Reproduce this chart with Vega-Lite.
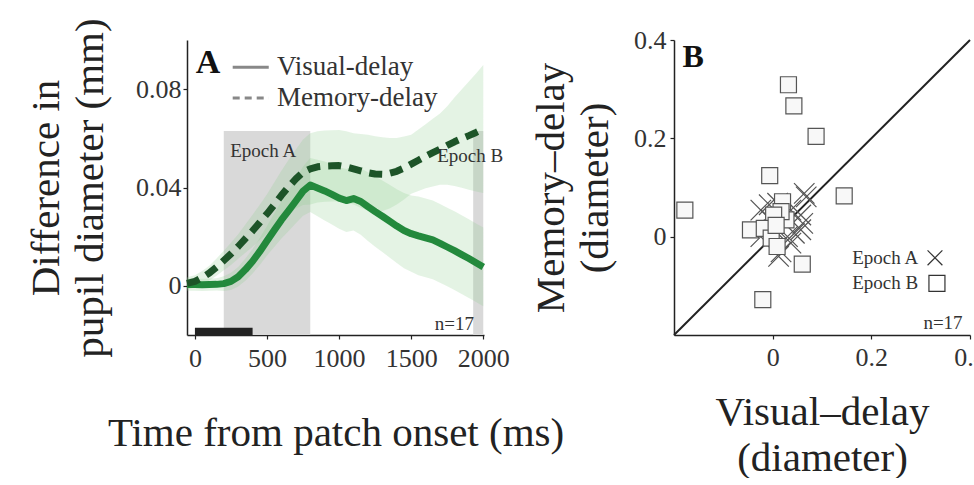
{
  "$schema": "https://vega.github.io/schema/vega-lite/v6.json",
  "background": "white",
  "padding": {"left": 25, "top": 17, "right": 0, "bottom": 0},
  "bounds": "flush",
  "spacing": 190,
  "config": {
    "font": "Liberation Serif",
    "view": {"stroke": null},
    "axis": {
      "labelFont": "Liberation Serif",
      "labelFontSize": 26,
      "labelColor": "#333333",
      "labelOverlap": false,
      "labelFlush": false,
      "titleFont": "Liberation Serif",
      "titleFontSize": 41,
      "titleFontWeight": "normal",
      "titleColor": "#222222",
      "titleLineHeight": 44,
      "domainColor": "#222222",
      "domainWidth": 1.5,
      "tickColor": "#222222",
      "tickSize": 4,
      "tickWidth": 1.2,
      "grid": false
    },
    "text": {"font": "Liberation Serif", "color": "#333333"}
  },
  "datasets": {
    "curves": [
      {"t": -55, "series": "Visual-delay", "mean": 0.0005, "lo": -0.002, "hi": 0.003},
      {"t": 0, "series": "Visual-delay", "mean": 0.0005, "lo": -0.002, "hi": 0.003},
      {"t": 50, "series": "Visual-delay", "mean": 0.0004, "lo": -0.0021, "hi": 0.0029},
      {"t": 100, "series": "Visual-delay", "mean": 0.0005, "lo": -0.002, "hi": 0.003},
      {"t": 150, "series": "Visual-delay", "mean": 0.0006, "lo": -0.0019, "hi": 0.0031},
      {"t": 200, "series": "Visual-delay", "mean": 0.0009, "lo": -0.0021, "hi": 0.0039},
      {"t": 250, "series": "Visual-delay", "mean": 0.0018, "lo": -0.0017, "hi": 0.0053},
      {"t": 300, "series": "Visual-delay", "mean": 0.0037, "lo": -0.0003, "hi": 0.0077},
      {"t": 350, "series": "Visual-delay", "mean": 0.0066, "lo": 0.0021, "hi": 0.0111},
      {"t": 400, "series": "Visual-delay", "mean": 0.01, "lo": 0.005, "hi": 0.015},
      {"t": 450, "series": "Visual-delay", "mean": 0.014, "lo": 0.0085, "hi": 0.0195},
      {"t": 500, "series": "Visual-delay", "mean": 0.0183, "lo": 0.0123, "hi": 0.0243},
      {"t": 550, "series": "Visual-delay", "mean": 0.0226, "lo": 0.0158, "hi": 0.0294},
      {"t": 600, "series": "Visual-delay", "mean": 0.0268, "lo": 0.0193, "hi": 0.0343},
      {"t": 650, "series": "Visual-delay", "mean": 0.0306, "lo": 0.0223, "hi": 0.0389},
      {"t": 700, "series": "Visual-delay", "mean": 0.0345, "lo": 0.0255, "hi": 0.0435},
      {"t": 750, "series": "Visual-delay", "mean": 0.0385, "lo": 0.0285, "hi": 0.0485},
      {"t": 800, "series": "Visual-delay", "mean": 0.041, "lo": 0.03, "hi": 0.052},
      {"t": 850, "series": "Visual-delay", "mean": 0.0398, "lo": 0.0283, "hi": 0.0513},
      {"t": 900, "series": "Visual-delay", "mean": 0.0386, "lo": 0.0266, "hi": 0.0506},
      {"t": 950, "series": "Visual-delay", "mean": 0.0372, "lo": 0.0249, "hi": 0.0495},
      {"t": 1000, "series": "Visual-delay", "mean": 0.0357, "lo": 0.0232, "hi": 0.0482},
      {"t": 1050, "series": "Visual-delay", "mean": 0.0347, "lo": 0.0219, "hi": 0.0475},
      {"t": 1100, "series": "Visual-delay", "mean": 0.0355, "lo": 0.0225, "hi": 0.0485},
      {"t": 1150, "series": "Visual-delay", "mean": 0.0343, "lo": 0.0208, "hi": 0.0478},
      {"t": 1200, "series": "Visual-delay", "mean": 0.0322, "lo": 0.0182, "hi": 0.0462},
      {"t": 1250, "series": "Visual-delay", "mean": 0.0302, "lo": 0.0159, "hi": 0.0445},
      {"t": 1300, "series": "Visual-delay", "mean": 0.0283, "lo": 0.0138, "hi": 0.0428},
      {"t": 1350, "series": "Visual-delay", "mean": 0.0263, "lo": 0.0115, "hi": 0.0411},
      {"t": 1400, "series": "Visual-delay", "mean": 0.0243, "lo": 0.0093, "hi": 0.0393},
      {"t": 1450, "series": "Visual-delay", "mean": 0.0225, "lo": 0.0072, "hi": 0.0378},
      {"t": 1500, "series": "Visual-delay", "mean": 0.0212, "lo": 0.0057, "hi": 0.0367},
      {"t": 1550, "series": "Visual-delay", "mean": 0.0203, "lo": 0.0043, "hi": 0.0363},
      {"t": 1600, "series": "Visual-delay", "mean": 0.0195, "lo": 0.0035, "hi": 0.0355},
      {"t": 1650, "series": "Visual-delay", "mean": 0.0187, "lo": 0.0027, "hi": 0.0347},
      {"t": 1700, "series": "Visual-delay", "mean": 0.0173, "lo": 0.0013, "hi": 0.0333},
      {"t": 1750, "series": "Visual-delay", "mean": 0.0158, "lo": -0.0002, "hi": 0.0318},
      {"t": 1800, "series": "Visual-delay", "mean": 0.0143, "lo": -0.0017, "hi": 0.0303},
      {"t": 1850, "series": "Visual-delay", "mean": 0.0127, "lo": -0.0033, "hi": 0.0287},
      {"t": 1900, "series": "Visual-delay", "mean": 0.0111, "lo": -0.0049, "hi": 0.0271},
      {"t": 1950, "series": "Visual-delay", "mean": 0.0094, "lo": -0.0066, "hi": 0.0254},
      {"t": 2000, "series": "Visual-delay", "mean": 0.0077, "lo": -0.0083, "hi": 0.0237},
      {"t": -55, "series": "Memory-delay", "mean": 0.001, "lo": -0.0015, "hi": 0.0035},
      {"t": 0, "series": "Memory-delay", "mean": 0.0018, "lo": -0.0007, "hi": 0.0043},
      {"t": 50, "series": "Memory-delay", "mean": 0.0033, "lo": 0.0006, "hi": 0.006},
      {"t": 100, "series": "Memory-delay", "mean": 0.0052, "lo": 0.0022, "hi": 0.0082},
      {"t": 150, "series": "Memory-delay", "mean": 0.0076, "lo": 0.0041, "hi": 0.0111},
      {"t": 200, "series": "Memory-delay", "mean": 0.0103, "lo": 0.0063, "hi": 0.0143},
      {"t": 250, "series": "Memory-delay", "mean": 0.013, "lo": 0.0085, "hi": 0.0175},
      {"t": 300, "series": "Memory-delay", "mean": 0.016, "lo": 0.011, "hi": 0.021},
      {"t": 350, "series": "Memory-delay", "mean": 0.0192, "lo": 0.0135, "hi": 0.0249},
      {"t": 400, "series": "Memory-delay", "mean": 0.0224, "lo": 0.0159, "hi": 0.0289},
      {"t": 450, "series": "Memory-delay", "mean": 0.0258, "lo": 0.0186, "hi": 0.033},
      {"t": 500, "series": "Memory-delay", "mean": 0.0293, "lo": 0.0213, "hi": 0.0373},
      {"t": 550, "series": "Memory-delay", "mean": 0.033, "lo": 0.024, "hi": 0.042},
      {"t": 600, "series": "Memory-delay", "mean": 0.0368, "lo": 0.0268, "hi": 0.0468},
      {"t": 650, "series": "Memory-delay", "mean": 0.0403, "lo": 0.0293, "hi": 0.0513},
      {"t": 700, "series": "Memory-delay", "mean": 0.0435, "lo": 0.0315, "hi": 0.0555},
      {"t": 750, "series": "Memory-delay", "mean": 0.0462, "lo": 0.0329, "hi": 0.0595},
      {"t": 800, "series": "Memory-delay", "mean": 0.0476, "lo": 0.0331, "hi": 0.0621},
      {"t": 850, "series": "Memory-delay", "mean": 0.0484, "lo": 0.0339, "hi": 0.0629},
      {"t": 900, "series": "Memory-delay", "mean": 0.0487, "lo": 0.0342, "hi": 0.0632},
      {"t": 950, "series": "Memory-delay", "mean": 0.0488, "lo": 0.0343, "hi": 0.0633},
      {"t": 1000, "series": "Memory-delay", "mean": 0.0489, "lo": 0.0344, "hi": 0.0634},
      {"t": 1050, "series": "Memory-delay", "mean": 0.0484, "lo": 0.0339, "hi": 0.0629},
      {"t": 1100, "series": "Memory-delay", "mean": 0.0476, "lo": 0.0331, "hi": 0.0621},
      {"t": 1150, "series": "Memory-delay", "mean": 0.0468, "lo": 0.0318, "hi": 0.0618},
      {"t": 1200, "series": "Memory-delay", "mean": 0.046, "lo": 0.0305, "hi": 0.0615},
      {"t": 1250, "series": "Memory-delay", "mean": 0.0455, "lo": 0.0302, "hi": 0.0608},
      {"t": 1300, "series": "Memory-delay", "mean": 0.0454, "lo": 0.0304, "hi": 0.0604},
      {"t": 1350, "series": "Memory-delay", "mean": 0.0458, "lo": 0.0315, "hi": 0.0601},
      {"t": 1400, "series": "Memory-delay", "mean": 0.0466, "lo": 0.0331, "hi": 0.0601},
      {"t": 1450, "series": "Memory-delay", "mean": 0.0479, "lo": 0.0351, "hi": 0.0607},
      {"t": 1500, "series": "Memory-delay", "mean": 0.0495, "lo": 0.0375, "hi": 0.0615},
      {"t": 1550, "series": "Memory-delay", "mean": 0.0511, "lo": 0.0386, "hi": 0.0636},
      {"t": 1600, "series": "Memory-delay", "mean": 0.0527, "lo": 0.0397, "hi": 0.0657},
      {"t": 1650, "series": "Memory-delay", "mean": 0.0542, "lo": 0.0404, "hi": 0.068},
      {"t": 1700, "series": "Memory-delay", "mean": 0.0556, "lo": 0.0411, "hi": 0.0701},
      {"t": 1750, "series": "Memory-delay", "mean": 0.0571, "lo": 0.0411, "hi": 0.0731},
      {"t": 1800, "series": "Memory-delay", "mean": 0.0586, "lo": 0.0406, "hi": 0.0766},
      {"t": 1850, "series": "Memory-delay", "mean": 0.0599, "lo": 0.0399, "hi": 0.0799},
      {"t": 1900, "series": "Memory-delay", "mean": 0.0611, "lo": 0.0391, "hi": 0.0831},
      {"t": 1950, "series": "Memory-delay", "mean": 0.0624, "lo": 0.0384, "hi": 0.0864},
      {"t": 2000, "series": "Memory-delay", "mean": 0.0638, "lo": 0.0378, "hi": 0.0898}
    ],
    "epochs": [
      {"epoch": "Epoch A", "start": 200, "end": 800},
      {"epoch": "Epoch B", "start": 1930, "end": 2000}
    ],
    "stimulus": [
      {"start": 0, "end": 400}
    ],
    "points": [
      {"epoch": "Epoch A", "visual": 0.068, "memory": 0.081},
      {"epoch": "Epoch A", "visual": 0.064, "memory": 0.088},
      {"epoch": "Epoch A", "visual": 0.061, "memory": 0.027},
      {"epoch": "Epoch A", "visual": 0.057, "memory": 0.014},
      {"epoch": "Epoch A", "visual": 0.057, "memory": 0.044},
      {"epoch": "Epoch A", "visual": 0.044, "memory": 0.007},
      {"epoch": "Epoch A", "visual": 0.037, "memory": 0.054},
      {"epoch": "Epoch A", "visual": 0.037, "memory": -0.013},
      {"epoch": "Epoch A", "visual": 0.030, "memory": 0.0},
      {"epoch": "Epoch A", "visual": 0.017, "memory": -0.031},
      {"epoch": "Epoch A", "visual": 0.012, "memory": -0.040},
      {"epoch": "Epoch A", "visual": 0.010, "memory": 0.068},
      {"epoch": "Epoch A", "visual": 0.003, "memory": 0.014},
      {"epoch": "Epoch A", "visual": -0.003, "memory": 0.034},
      {"epoch": "Epoch A", "visual": -0.007, "memory": 0.065},
      {"epoch": "Epoch A", "visual": -0.024, "memory": 0.054},
      {"epoch": "Epoch A", "visual": -0.024, "memory": 0.0},
      {"epoch": "Epoch B", "visual": 0.032, "memory": 0.309},
      {"epoch": "Epoch B", "visual": 0.043, "memory": 0.266},
      {"epoch": "Epoch B", "visual": 0.088, "memory": 0.204},
      {"epoch": "Epoch B", "visual": -0.006, "memory": 0.124},
      {"epoch": "Epoch B", "visual": -0.178, "memory": 0.054},
      {"epoch": "Epoch B", "visual": 0.145, "memory": 0.083},
      {"epoch": "Epoch B", "visual": 0.020, "memory": 0.071},
      {"epoch": "Epoch B", "visual": 0.027, "memory": 0.034},
      {"epoch": "Epoch B", "visual": 0.017, "memory": 0.051},
      {"epoch": "Epoch B", "visual": 0.002, "memory": 0.044},
      {"epoch": "Epoch B", "visual": -0.045, "memory": 0.014},
      {"epoch": "Epoch B", "visual": -0.017, "memory": 0.017},
      {"epoch": "Epoch B", "visual": -0.003, "memory": -0.003},
      {"epoch": "Epoch B", "visual": 0.009, "memory": -0.020},
      {"epoch": "Epoch B", "visual": 0.060, "memory": -0.056},
      {"epoch": "Epoch B", "visual": -0.020, "memory": -0.128},
      {"epoch": "Epoch B", "visual": 0.007, "memory": 0.023}
    ]
  },
  "hconcat": [
    {
      "width": 297,
      "height": 295,
      "layer": [
        {
          "data": {"name": "epochs"},
          "mark": {"type": "rect", "color": "#d9d9d9"},
          "encoding": {
            "x": {"field": "start", "type": "quantitative", "scale": {"domain": [-55, 2005], "nice": false, "zero": false},
              "axis": {"values": [0, 500, 1000, 1500, 2000], "format": "d", "title": "Time from patch onset (ms)", "labelPadding": 6, "titlePadding": 42}},
            "x2": {"field": "end"},
            "y": {"datum": -0.02, "type": "quantitative", "scale": {"domain": [-0.02, 0.1], "nice": false, "zero": false},
              "axis": {"values": [0, 0.04, 0.08], "format": "~g", "title": ["Difference in", "pupil diameter (mm)"], "labelPadding": 2, "titlePadding": 24}},
            "y2": {"datum": 0.063}
          }
        },
        {
          "data": {"name": "curves"},
          "mark": {"type": "area", "color": "#8fcc8f", "opacity": 0.24},
          "encoding": {
            "x": {"field": "t", "type": "quantitative"},
            "y": {"field": "lo", "type": "quantitative"},
            "y2": {"field": "hi"},
            "detail": {"field": "series"}
          }
        },
        {
          "data": {"name": "stimulus"},
          "mark": {"type": "rect", "color": "#222222"},
          "encoding": {
            "x": {"field": "start", "type": "quantitative"},
            "x2": {"field": "end"},
            "y": {"datum": -0.02, "type": "quantitative"},
            "y2": {"datum": -0.017}
          }
        },
        {
          "data": {"name": "curves"},
          "transform": [{"filter": "datum.series === 'Visual-delay'"}],
          "mark": {"type": "line", "strokeWidth": 7, "strokeCap": "butt", "strokeJoin": "round", "color": "#23893c"},
          "encoding": {
            "x": {"field": "t", "type": "quantitative"},
            "y": {"field": "mean", "type": "quantitative"}
          }
        },
        {
          "data": {"name": "curves"},
          "transform": [{"filter": "datum.series === 'Memory-delay'"}],
          "mark": {"type": "line", "strokeWidth": 7, "strokeCap": "butt", "strokeJoin": "round", "strokeDash": [13, 8], "color": "#1d5428"},
          "encoding": {
            "x": {"field": "t", "type": "quantitative"},
            "y": {"field": "mean", "type": "quantitative"}
          }
        },
        {
          "data": {"values": [{}]},
          "mark": {"type": "rule", "color": "#888888", "strokeWidth": 3},
          "encoding": {"x": {"datum": 262, "type": "quantitative"}, "x2": {"datum": 512}, "y": {"datum": 0.0889, "type": "quantitative"}}
        },
        {
          "data": {"values": [{}]},
          "mark": {"type": "rule", "color": "#888888", "strokeWidth": 3, "strokeDash": [7, 5]},
          "encoding": {"x": {"datum": 262, "type": "quantitative"}, "x2": {"datum": 512}, "y": {"datum": 0.0764, "type": "quantitative"}}
        },
        {
          "data": {"values": [{}]},
          "mark": {"type": "text", "text": "Visual-delay", "fontSize": 27, "align": "left", "baseline": "middle"},
          "encoding": {"x": {"datum": 569, "type": "quantitative"}, "y": {"datum": 0.0889, "type": "quantitative"}}
        },
        {
          "data": {"values": [{}]},
          "mark": {"type": "text", "text": "Memory-delay", "fontSize": 27, "align": "left", "baseline": "middle"},
          "encoding": {"x": {"datum": 569, "type": "quantitative"}, "y": {"datum": 0.0764, "type": "quantitative"}}
        },
        {
          "data": {"values": [{}]},
          "mark": {"type": "text", "text": "A", "fontSize": 34, "fontWeight": "bold", "color": "#111111", "align": "left", "baseline": "alphabetic"},
          "encoding": {"x": {"datum": 5, "type": "quantitative"}, "y": {"datum": 0.0867, "type": "quantitative"}}
        },
        {
          "data": {"values": [{}]},
          "mark": {"type": "text", "text": "Epoch A", "fontSize": 19, "align": "left", "baseline": "middle"},
          "encoding": {"x": {"datum": 245, "type": "quantitative"}, "y": {"datum": 0.0547, "type": "quantitative"}}
        },
        {
          "data": {"values": [{}]},
          "mark": {"type": "text", "text": "Epoch B", "fontSize": 19, "align": "left", "baseline": "middle"},
          "encoding": {"x": {"datum": 1680, "type": "quantitative"}, "y": {"datum": 0.0527, "type": "quantitative"}}
        },
        {
          "data": {"values": [{}]},
          "mark": {"type": "text", "text": "n=17", "fontSize": 19, "align": "right", "baseline": "middle"},
          "encoding": {"x": {"datum": 1935, "type": "quantitative"}, "y": {"datum": -0.0155, "type": "quantitative"}}
        }
      ]
    },
    {
      "width": 296,
      "height": 295,
      "layer": [
        {
          "data": {"values": [{}]},
          "mark": {"type": "rule", "color": "#222222", "strokeWidth": 2},
          "encoding": {
            "x": {"datum": -0.2, "type": "quantitative", "scale": {"domain": [-0.2, 0.4], "nice": false, "zero": false},
              "axis": {"values": [0, 0.2, 0.4], "format": "~g", "title": ["Visual–delay", "(diameter)"], "labelPadding": 5, "titlePadding": 22, "titleLineHeight": 46}},
            "y": {"datum": -0.2, "type": "quantitative", "scale": {"domain": [-0.2, 0.4], "nice": false, "zero": false},
              "axis": {"values": [0, 0.2, 0.4], "format": "~g", "title": ["Memory–delay", "(diameter)"], "labelPadding": 4, "titlePadding": 17}},
            "x2": {"datum": 0.4},
            "y2": {"datum": 0.4}
          }
        },
        {
          "data": {"name": "points"},
          "mark": {"type": "point", "filled": true, "fill": "#f8f8f8", "stroke": "#555555", "strokeWidth": 1.2, "opacity": 1},
          "encoding": {
            "x": {"field": "visual", "type": "quantitative"},
            "y": {"field": "memory", "type": "quantitative"},
            "shape": {"field": "epoch", "type": "nominal", "scale": {"domain": ["Epoch A", "Epoch B"], "range": ["M-1,-1L1,1M-1,1L1,-1", "square"]}, "legend": null},
            "size": {"field": "epoch", "type": "nominal", "scale": {"domain": ["Epoch A", "Epoch B"], "range": [420, 256]}, "legend": null}
          }
        },
        {
          "data": {"values": [{}]},
          "mark": {"type": "text", "text": "Epoch A", "fontSize": 19, "align": "right", "baseline": "middle"},
          "encoding": {"x": {"datum": 0.295, "type": "quantitative"}, "y": {"datum": -0.043, "type": "quantitative"}}
        },
        {
          "data": {"values": [{}]},
          "mark": {"type": "text", "text": "Epoch B", "fontSize": 19, "align": "right", "baseline": "middle"},
          "encoding": {"x": {"datum": 0.295, "type": "quantitative"}, "y": {"datum": -0.095, "type": "quantitative"}}
        },
        {
          "data": {"values": [{}]},
          "mark": {"type": "point", "shape": "M-1,-1L1,1M-1,1L1,-1", "size": 220, "filled": false, "stroke": "#333333", "strokeWidth": 1.2, "opacity": 1},
          "encoding": {"x": {"datum": 0.329, "type": "quantitative"}, "y": {"datum": -0.043, "type": "quantitative"}}
        },
        {
          "data": {"values": [{}]},
          "mark": {"type": "point", "shape": "square", "size": 256, "filled": true, "fill": "#ffffff", "stroke": "#333333", "strokeWidth": 1.2, "opacity": 1},
          "encoding": {"x": {"datum": 0.333, "type": "quantitative"}, "y": {"datum": -0.095, "type": "quantitative"}}
        },
        {
          "data": {"values": [{}]},
          "mark": {"type": "text", "text": "B", "fontSize": 32, "fontWeight": "bold", "color": "#111111", "align": "left", "baseline": "alphabetic"},
          "encoding": {"x": {"datum": -0.183, "type": "quantitative"}, "y": {"datum": 0.345, "type": "quantitative"}}
        },
        {
          "data": {"values": [{}]},
          "mark": {"type": "text", "text": "n=17", "fontSize": 19, "align": "right", "baseline": "middle"},
          "encoding": {"x": {"datum": 0.385, "type": "quantitative"}, "y": {"datum": -0.176, "type": "quantitative"}}
        }
      ]
    }
  ]
}
